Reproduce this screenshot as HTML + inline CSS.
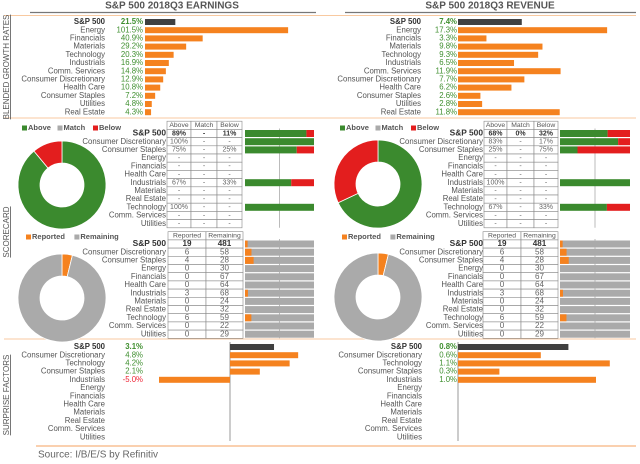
<!DOCTYPE html>
<html><head><meta charset="utf-8"><style>
body{margin:0;background:#fff;}
svg{display:block;font-family:"Liberation Sans",sans-serif;}
</style></head><body>
<svg id="s" width="640" height="464" viewBox="0 0 640 464"></svg>
<script>
const growthCats=["S&P 500","Energy","Financials","Materials","Technology","Industrials","Comm. Services","Consumer Discretionary","Health Care","Consumer Staples","Utilities","Real Estate"];
const earnGrowth=[21.5,101.5,40.9,29.2,20.3,16.9,14.8,12.9,10.8,7.2,4.8,4.3];
const revGrowth=[7.4,17.3,3.3,9.8,9.3,6.5,11.9,7.7,6.2,2.6,2.8,11.8];
const scoreCats=["S&P 500","Consumer Discretionary","Consumer Staples","Energy","Financials","Health Care","Industrials","Materials","Real Estate","Technology","Comm. Services","Utilities"];
const earnAbove=[89,100,75,null,null,null,67,null,null,100,null,null];
const earnMatch=[null,null,null,null,null,null,null,null,null,null,null,null];
const earnBelow=[11,null,25,null,null,null,33,null,null,null,null,null];
const revAbove=[68,83,25,null,null,null,100,null,null,67,null,null];
const revMatch=[0,null,null,null,null,null,null,null,null,null,null,null];
const revBelow=[32,17,75,null,null,null,null,null,null,33,null,null];
const reported=[19,6,4,0,0,0,3,0,0,6,0,0];
const remaining=[481,58,28,30,67,64,68,24,32,59,22,29];
const surpCats=["S&P 500","Consumer Discretionary","Technology","Consumer Staples","Industrials","Energy","Financials","Health Care","Materials","Real Estate","Comm. Services","Utilities"];
const earnSurp=[3.1,4.8,4.2,2.1,-5.0,null,null,null,null,null,null,null];
const revSurp=[0.8,0.6,1.1,0.3,1.0,null,null,null,null,null,null,null];

const S=document.getElementById('s');const NS="http://www.w3.org/2000/svg";
function el(t,a,txt){const e=document.createElementNS(NS,t);for(const k in a)e.setAttribute(k,a[k]);if(txt!=null)e.textContent=txt;S.appendChild(e);return e;}
function tx(x,y,s,o){o=o||{};return el('text',{x:x,y:y,'font-size':o.fs||7.8,fill:o.fill||'#555','text-anchor':o.anchor||'end','font-weight':o.bold?'bold':'normal','dominant-baseline':'middle'},s);}
const OR='#f5821f',GR='#3b8a2e',RD='#e31e1e',GY='#aaa',DK='#404040',VG='#3f8f2f';
const STEP=8.2;
[[172,"S&P 500 2018Q3 EARNINGS",30,316],[490,"S&P 500 2018Q3 REVENUE",345,636]].forEach(([cx,t,x1,x2],i)=>{
 const e=tx(cx,6,t,{fs:10,bold:true,anchor:'middle'});
 el('line',{x1:x1,x2:x2,y1:12.5,y2:12.5,stroke:'#777','stroke-width':1.2});
});
el('line',{x1:4,x2:636,y1:15.5,y2:15.5,stroke:'#f8c9a0','stroke-width':1});
[[118],[339]].forEach(([y])=>el('line',{x1:4,x2:636,y1:y,y2:y,stroke:'#f8c9a0','stroke-width':1}));
function vlab(y,t,n){const e=el('text',{x:0,y:0,'font-size':8,fill:'#555','text-anchor':'middle',transform:`translate(9,${y}) rotate(-90)`,'text-decoration':'underline'},t);}
vlab(67,"BLENDED GROWTH RATES","growth-section-label");vlab(232,"SCORECARD","scorecard-section-label");vlab(395,"SURPRISE FACTORS","surprise-section-label");
function growth(vals,lx,vx,bx,scale,pre){
 vals.forEach((v,i)=>{const y=22+i*STEP;
  tx(lx,y,growthCats[i],{bold:i==0,fill:i==0?'#333':'#555'});
  tx(vx,y,v.toFixed(1)+'%',{fill:VG,bold:i==0});
  const r=el('rect',{x:bx,y:y-3,width:v*scale,height:6,fill:i==0?DK:OR});
  
 });}
growth(earnGrowth,105,143,145,1.41,'earnings');
growth(revGrowth,421,457,458,8.62,'revenue');
function legend(x,y,items){let cx=x;items.forEach(([c,t])=>{el('rect',{x:cx,y:y-2.5,width:5,height:5,fill:c});const e=tx(cx+6,y,t,{anchor:'start',bold:true,fs:7.5});cx+=t.length*4.3+14;});}
function arc(cx,cy,R,r,a0,a1,fill,name){
 if(a1-a0<=0)return;if(a1-a0>=0.9999)a1=a0+0.9999;
 const p=a=>[Math.sin(a*2*Math.PI),-Math.cos(a*2*Math.PI)];const L=(a1-a0)>0.5?1:0;
 const [s0,c0]=p(a0),[s1,c1]=p(a1);
 const d=`M${cx+R*s0},${cy+R*c0}A${R},${R} 0 ${L} 1 ${cx+R*s1},${cy+R*c1}L${cx+r*s1},${cy+r*c1}A${r},${r} 0 ${L} 0 ${cx+r*s0},${cy+r*c0}Z`;
 const e=el('path',{d:d,fill:fill,stroke:'#fff','stroke-width':0.8});}
function donut(cx,cy,parts,cols,name){const tot=parts.reduce((a,b)=>a+b,0);let a=0;parts.forEach((p,i)=>{arc(cx,cy,44,22,a,a+p/tot,cols[i],name);a+=p/tot;});}
function table(y0,lx,cols,heads,rows,fmt){
 const H=STEP,top=y0-H/2-H;
 heads.forEach((h,j)=>{el('rect',{x:cols[j],y:top,width:cols[j+1]-cols[j],height:H,fill:'#fff',stroke:'#888','stroke-width':0.6});tx((cols[j]+cols[j+1])/2,top+H/2,h,{anchor:'middle',fs:6.8});});
 scoreCats.forEach((c,i)=>{const y=y0+i*H;tx(lx,y,c,{bold:i==0,fill:i==0?'#333':'#555',fs:i==0?8.4:7.8});
  rows.forEach((arr,j)=>{el('rect',{x:cols[j],y:y-H/2,width:cols[j+1]-cols[j],height:H,fill:'#fff',stroke:'#888','stroke-width':0.6});
   const e=tx((cols[j]+cols[j+1])/2,y,fmt(arr[i]),{anchor:'middle',bold:i==0,fs:fmt===String?8.1:7,fill:i==0?'#333':'#666'});});
 });}
const pct=v=>v==null?'-':v+'%';
function scoreBars(bx,w,y0,ab,be,name){el('line',{x1:bx+w/2,x2:bx+w/2,y1:y0-5,y2:y0+11*STEP+4,stroke:'#bbb','stroke-width':1});
 scoreCats.forEach((c,i)=>{const y=y0+i*STEP;if(ab[i]==null&&be[i]==null)return;const a=ab[i]||0,b=be[i]||0;
  const g=el('rect',{x:bx,y:y-3.5,width:w*a/100,height:7,fill:GR});
  const r=el('rect',{x:bx+w*a/100,y:y-3.5,width:w*b/100,height:7,fill:RD});});}
function repBars(bx,w,y0,name){el('line',{x1:bx+w/2,x2:bx+w/2,y1:y0-5,y2:y0+11*STEP+4,stroke:'#bbb','stroke-width':1});
 scoreCats.forEach((c,i)=>{const y=y0+i*STEP,t=reported[i]+remaining[i];
  el('rect',{x:bx,y:y-3.5,width:w,height:7,fill:GY});
  const o=el('rect',{x:bx,y:y-3.5,width:w*reported[i]/t,height:7,fill:OR});});}
legend(22,128,[[GR,'Above'],[GY,'Match'],[RD,'Below']]);
legend(340,128,[[GR,'Above'],[GY,'Match'],[RD,'Below']]);
donut(62,185,[earnAbove[0]||0,earnMatch[0]||0,earnBelow[0]||0],[GR,GY,RD],'earnings-score-donut');
donut(378,184,[revAbove[0]||0,revMatch[0]||0,revBelow[0]||0],[GR,GY,RD],'revenue-score-donut');
table(133.5,166,[167,191,217,242],["Above","Match","Below"],[earnAbove,earnMatch,earnBelow],pct);
table(133.5,483,[484,507,534,558],["Above","Match","Below"],[revAbove,revMatch,revBelow],pct);
scoreBars(245,69,133.5,earnAbove,earnBelow,'earnings');
scoreBars(560,70,133.5,revAbove,revBelow,'revenue');
legend(26,237,[[OR,'Reported'],[GY,'Remaining']]);
legend(342,237,[[OR,'Reported'],[GY,'Remaining']]);
donut(62,298,[reported[0],remaining[0]],[OR,GY],'earnings-reported-donut');
donut(378,297,[reported[0],remaining[0]],[OR,GY],'revenue-reported-donut');
table(244,166,[168,206,243],["Reported","Remaining"],[reported,remaining],String);
table(244,483,[483,521,558],["Reported","Remaining"],[reported,remaining],String);
repBars(245,69,244,'earnings');repBars(560,70,244,'revenue');
function surprise(vals,lx,vx,ax,scale,name){
 el('line',{x1:ax,x2:ax,y1:342,y2:441,stroke:'#999','stroke-width':1});
 vals.forEach((v,i)=>{const y=347+i*STEP;tx(lx,y,surpCats[i],{bold:i==0,fill:i==0?'#333':'#555'});
  if(v==null)return;tx(vx,y,v.toFixed(1)+'%',{fill:v<0?'#e23':VG,bold:i==0});
  const x=v<0?ax+v*scale:ax;const r=el('rect',{x:x,y:y-3,width:Math.abs(v)*scale,height:6,fill:i==0?DK:OR});
  });}
surprise(earnSurp,105,143,230,14.2,'earnings');
surprise(revSurp,422,457,458,138,'revenue');
el('line',{x1:36,x2:636,y1:446,y2:446,stroke:'#f5a25f','stroke-width':1});
const src=tx(38,455,"Source: I/B/E/S by Refinitiv",{anchor:'start',fs:10,fill:'#666'});

</script>
</body></html>
